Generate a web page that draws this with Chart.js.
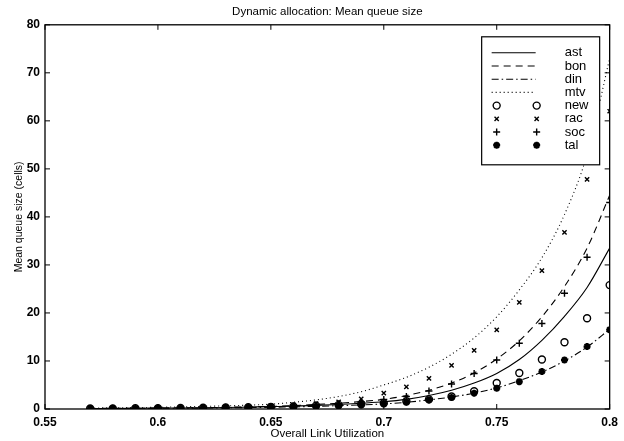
<!DOCTYPE html>
<html>
<head>
<meta charset="utf-8">
<script src="https://cdn.jsdelivr.net/npm/chart.js@4/dist/chart.umd.min.js"></script>
<style>
  html, body { margin: 0; padding: 0; background: #fff; }
  #wrap { width: 624px; height: 441px; }
</style>
</head>
<body>
<div id="wrap"><canvas id="queue"></canvas></div>
<script>
const utilization = [0.57, 0.58, 0.59, 0.6, 0.61, 0.62, 0.63, 0.64, 0.65, 0.66, 0.67, 0.68,
  0.69, 0.7, 0.71, 0.72, 0.73, 0.74, 0.75, 0.76, 0.77, 0.78, 0.79, 0.8];

// lines
const ast = [0.1, 0.1, 0.15, 0.2, 0.2, 0.25, 0.3, 0.4, 0.5, 0.6, 0.75, 0.95,
  1.2, 1.5, 2.0, 2.8, 3.9, 5.4, 7.4, 10.3, 14.3, 19.3, 25.3, 33.5];
const bon = [0.1, 0.15, 0.15, 0.2, 0.25, 0.3, 0.35, 0.45, 0.55, 0.7, 0.95, 1.2,
  1.55, 2.0, 2.8, 3.9, 5.4, 7.5, 10.4, 14.2, 19.2, 25.5, 33.5, 44.5];
const din = [0.05, 0.1, 0.1, 0.15, 0.15, 0.2, 0.25, 0.3, 0.35, 0.45, 0.55, 0.7,
  0.85, 1.05, 1.4, 1.9, 2.5, 3.3, 4.4, 5.9, 7.7, 10.0, 12.9, 16.6];
const mtv = [0.2, 0.25, 0.3, 0.35, 0.45, 0.55, 0.65, 0.8, 1.0, 1.4, 1.9, 2.6,
  3.6, 5.0, 6.6, 8.7, 11.4, 14.8, 19.2, 24.8, 31.5, 40.5, 53, 73];

// markers
const newQ = [0.1, 0.1, 0.15, 0.15, 0.2, 0.25, 0.3, 0.35, 0.45, 0.55, 0.7, 0.85,
  1.0, 1.2, 1.6, 2.0, 2.6, 3.7, 5.4, 7.5, 10.3, 13.9, 18.9, 25.8];
const rac = [0.15, 0.15, 0.2, 0.2, 0.25, 0.3, 0.4, 0.5, 0.65, 0.85, 1.1, 1.5,
  2.1, 3.3, 4.6, 6.4, 9.1, 12.2, 16.5, 22.2, 28.8, 36.8, 47.8, 62];
const soc = [0.1, 0.15, 0.15, 0.2, 0.25, 0.3, 0.35, 0.45, 0.5, 0.65, 0.85, 1.1,
  1.5, 2.0, 2.6, 3.75, 5.2, 7.4, 10.2, 13.7, 17.8, 24.1, 31.6, 43];
const tal = [0.1, 0.1, 0.1, 0.15, 0.15, 0.2, 0.25, 0.3, 0.35, 0.45, 0.55, 0.7,
  0.9, 1.1, 1.4, 1.9, 2.4, 3.3, 4.3, 5.7, 7.8, 10.2, 13.0, 16.5];

const xTicks = [0.55, 0.6, 0.65, 0.7, 0.75, 0.8];
const yTicks = [0, 10, 20, 30, 40, 50, 60, 70, 80];

const FONT = "'Liberation Sans', Arial, Helvetica, sans-serif";
Chart.defaults.color = "#000";
Chart.defaults.font.family = FONT;

const pts = (ys) => utilization.map((x, i) => ({ x: x, y: ys[i] }));

function lineSet(label, ys, dash) {
  return {
    label: label,
    data: pts(ys),
    showLine: true,
    borderColor: "#000",
    borderWidth: 1.1,
    borderDash: dash,
    pointRadius: 0,
    cubicInterpolationMode: "monotone",
  };
}

function markSet(label, ys, style, r, fill) {
  return {
    label: label,
    data: pts(ys),
    showLine: false,
    pointStyle: style,
    pointRadius: r,
    borderWidth: style === "star" ? 2.2 : 1.4,
    borderColor: "#000",
    backgroundColor: fill ? "#000" : "rgba(0,0,0,0)",
  };
}

// MATLAB style box with inward ticks on all four sides
const frame = {
  id: "frame",
  beforeDatasetsDraw(chart) {
    const { ctx, chartArea: a, scales } = chart;
    ctx.save();
    ctx.strokeStyle = "#000";
    ctx.lineWidth = 1.3;
    ctx.strokeRect(a.left, a.top, a.right - a.left, a.bottom - a.top);
    ctx.lineWidth = 1;
    ctx.beginPath();
    xTicks.forEach((v) => {
      const px = scales.x.getPixelForValue(v);
      ctx.moveTo(px, a.bottom); ctx.lineTo(px, a.bottom - 5);
      ctx.moveTo(px, a.top); ctx.lineTo(px, a.top + 5);
    });
    yTicks.forEach((v) => {
      const py = scales.y.getPixelForValue(v);
      ctx.moveTo(a.left, py); ctx.lineTo(a.left + 5, py);
      ctx.moveTo(a.right, py); ctx.lineTo(a.right - 5, py);
    });
    ctx.stroke();
    ctx.restore();
  },
};

// legend box in the upper right corner, line sample or two markers per row
const boxLegend = {
  id: "boxLegend",
  afterDatasetsDraw(chart) {
    const { ctx, chartArea: a } = chart;
    const w = 118, h = 128;
    const left = a.right - 10 - w, top = a.top + 12;
    ctx.save();
    ctx.fillStyle = "#fff";
    ctx.fillRect(left, top, w, h);
    ctx.strokeStyle = "#000";
    ctx.lineWidth = 1.2;
    ctx.strokeRect(left, top, w, h);
    ctx.font = "13px " + FONT;
    ctx.textBaseline = "middle";
    chart.data.datasets.forEach((ds, i) => {
      const y = top + 16 + i * 13.2;
      ctx.strokeStyle = "#000";
      ctx.fillStyle = "#000";
      if (ds.showLine) {
        ctx.lineWidth = 1.1;
        ctx.setLineDash(ds.borderDash || []);
        ctx.beginPath();
        ctx.moveTo(left + 10, y);
        ctx.lineTo(left + 54, y);
        ctx.stroke();
        ctx.setLineDash([]);
      } else {
        ctx.lineWidth = ds.borderWidth;
        ctx.fillStyle = ds.backgroundColor;
        const o = { pointStyle: ds.pointStyle, radius: ds.pointRadius, borderWidth: ds.borderWidth, rotation: 0 };
        Chart.helpers.drawPoint(ctx, o, left + 15, y);
        Chart.helpers.drawPoint(ctx, o, left + 55, y);
      }
      ctx.fillStyle = "#000";
      ctx.fillText(ds.label, left + 83, y);
    });
    ctx.restore();
  },
};

new Chart(document.getElementById("queue"), {
  type: "scatter",
  data: {
    datasets: [
      lineSet("ast", ast, []),
      lineSet("bon", bon, [7, 5]),
      lineSet("din", din, [7, 3, 1.5, 3]),
      lineSet("mtv", mtv, [1, 3]),
      markSet("new", newQ, "circle", 3.5, false),
      markSet("rac", rac, "crossRot", 3, false),
      markSet("soc", soc, "cross", 3.5, false),
      markSet("tal", tal, "star", 3.5, true),
    ],
  },
  options: {
    responsive: true,
    maintainAspectRatio: false,
    animation: false,
    devicePixelRatio: 1,
    layout: { padding: { left: 0, right: 14, top: 0, bottom: 0 } },
    plugins: {
      legend: { display: false },
      tooltip: { enabled: false },
      title: {
        display: true,
        text: "Dynamic allocation: Mean queue size",
        fullSize: false,
        font: { size: 11.5, weight: "normal" },
        padding: { top: 5, bottom: 6 },
      },
    },
    scales: {
      x: {
        type: "linear",
        min: 0.55,
        max: 0.8,
        afterBuildTicks: (s) => { s.ticks = xTicks.map((v) => ({ value: v })); },
        afterFit: (s) => { s.height = 32; },
        grid: { display: false, drawTicks: false },
        border: { display: false },
        ticks: {
          padding: 6,
          font: { size: 12, weight: "bold" },
          callback: (v) => String(+Number(v).toFixed(2)),
        },
        title: {
          display: true,
          text: "Overall Link Utilization",
          font: { size: 11.5 },
          padding: { top: 0, bottom: 0 },
        },
      },
      y: {
        min: 0,
        max: 80,
        afterBuildTicks: (s) => { s.ticks = yTicks.map((v) => ({ value: v })); },
        afterFit: (s) => { s.width = 45; },
        grid: { display: false, drawTicks: false },
        border: { display: false },
        ticks: { padding: 5, font: { size: 12, weight: "bold" } },
        title: {
          display: true,
          text: "Mean queue size (cells)",
          font: { size: 10.5 },
          padding: { top: 13, bottom: 0 },
        },
      },
    },
  },
  plugins: [frame, boxLegend],
});
</script>
</body>
</html>
